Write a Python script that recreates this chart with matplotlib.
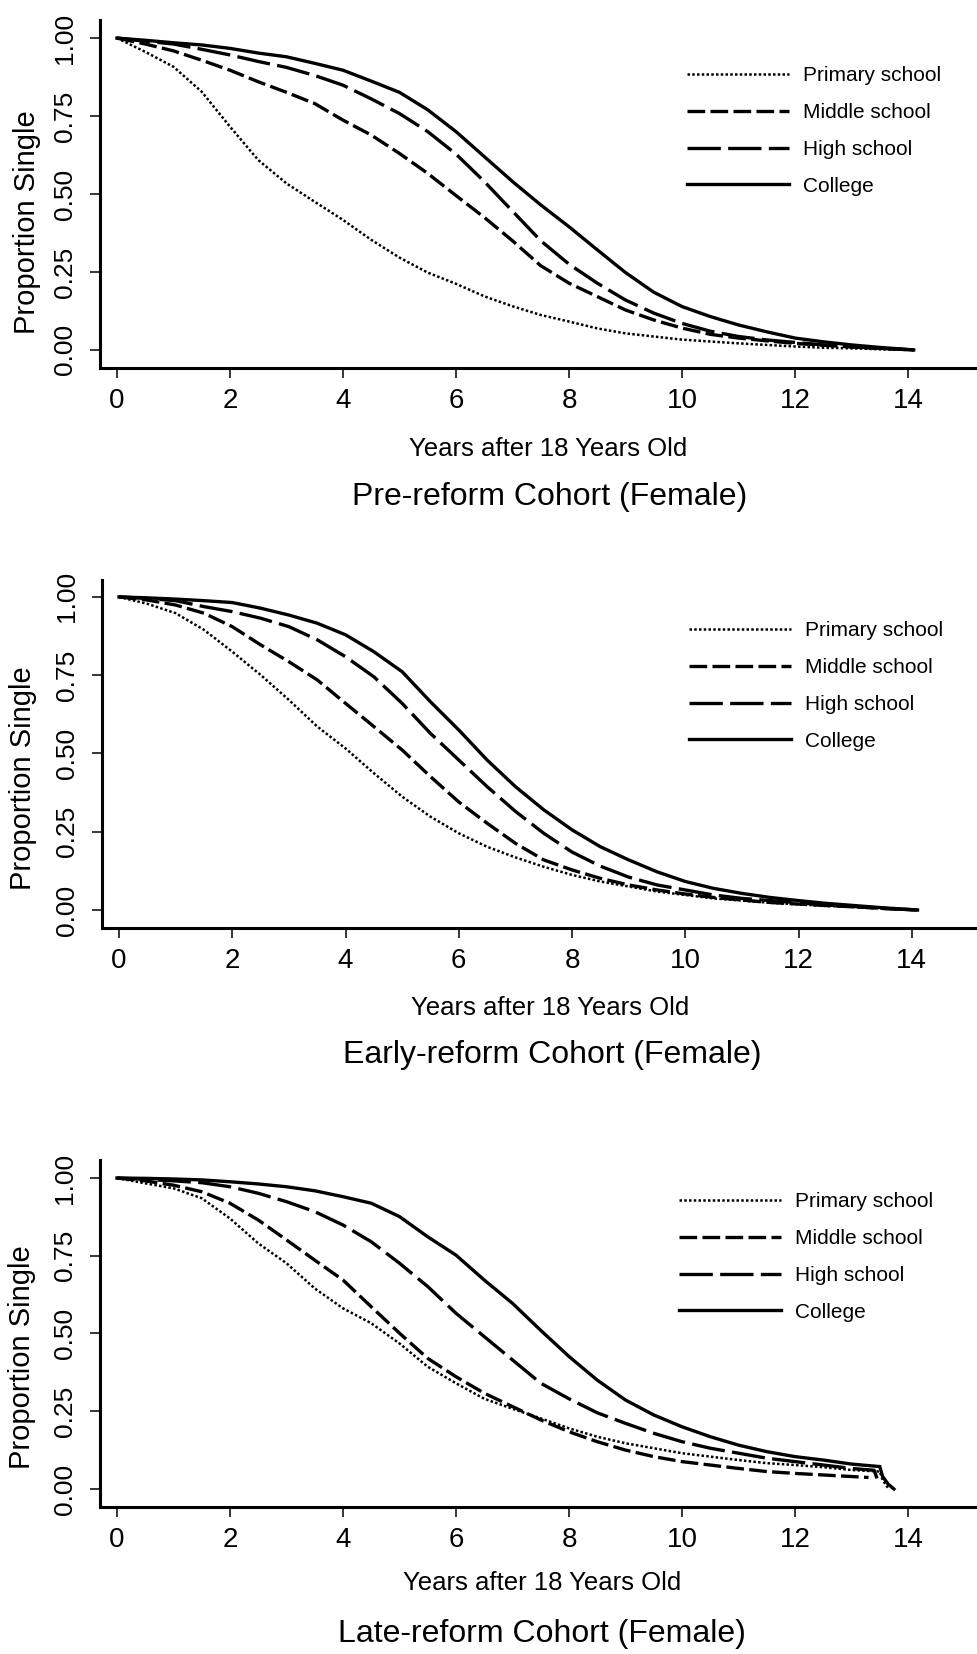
import matplotlib
matplotlib.use("Agg")
import matplotlib.pyplot as plt
from matplotlib import font_manager as fm

# ---------------- data ----------------
education = ["Primary school", "Middle school", "High school", "College"]
titles = ["Pre-reform Cohort (Female)", "Early-reform Cohort (Female)", "Late-reform Cohort (Female)"]
x_label = "Years after 18 Years Old"
y_label = "Proportion Single"
x_ticks = [0, 2, 4, 6, 8, 10, 12, 14]
y_ticks = [0.00, 0.25, 0.50, 0.75, 1.00]
y_ticklabels = ["0.00", "0.25", "0.50", "0.75", "1.00"]

# Pre-reform cohort
pre_years = [0, .5, 1, 1.5, 2, 2.5, 3, 3.5, 4, 4.5, 5, 5.5, 6, 6.5, 7, 7.5, 8, 8.5,
             9, 9.5, 10, 10.5, 11, 11.5, 12, 12.5, 13, 13.5, 14.1]
pre_primary = [1.0, .956, .908, .828, .716, .609, .534, .475, .417, .353, .296, .248, .212, .172,
               .140, .112, .091, .069, .053, .043, .033, .027, .021, .016, .011, .007, .005, .002, 0.0]
pre_middle = [1.0, .981, .959, .929, .897, .860, .826, .790, .737, .689, .630, .566, .495, .425,
              .350, .270, .214, .171, .128, .096, .070, .050, .038, .029, .021, .015, .010, .005, 0.0]
pre_high = [1.0, .990, .981, .964, .946, .925, .906, .880, .849, .805, .758, .700, .628, .540,
            .445, .350, .275, .214, .160, .118, .085, .060, .043, .032, .024, .016, .010, .005, 0.0]
pre_college = [1.0, .993, .985, .978, .967, .952, .940, .919, .897, .862, .826, .770, .700, .620,
               .540, .465, .395, .321, .248, .185, .139, .107, .080, .058, .038, .026, .016, .008, 0.0]

# Early-reform cohort
early_years = [0, .5, 1, 1.5, 2, 2.5, 3, 3.5, 4, 4.5, 5, 5.5, 6, 6.5, 7, 7.5, 8, 8.5,
               9, 9.5, 10, 10.5, 11, 11.5, 12, 12.5, 13, 13.5, 14.1]
early_primary = [1.0, .978, .948, .895, .825, .751, .671, .586, .516, .437, .362, .298, .245, .202,
                 .168, .138, .112, .091, .075, .059, .048, .037, .030, .023, .018, .013, .009, .004, 0.0]
early_middle = [1.0, .990, .974, .948, .905, .847, .793, .735, .660, .586, .511, .426, .345, .277,
                .213, .160, .128, .101, .080, .064, .051, .040, .032, .024, .019, .014, .010, .005, 0.0]
early_high = [1.0, .995, .988, .969, .953, .932, .905, .863, .809, .745, .660, .564, .479, .394,
              .315, .245, .185, .140, .105, .080, .064, .048, .037, .030, .023, .016, .011, .005, 0.0]
early_college = [1.0, .997, .993, .988, .982, .964, .942, .916, .879, .825, .761, .665, .575, .479,
                 .394, .320, .256, .202, .160, .122, .091, .069, .053, .040, .030, .021, .014, .007, 0.0]

# Late-reform cohort (series end at different times)
late_primary_t = [0, .5, 1, 1.5, 2, 2.5, 3, 3.5, 4, 4.5, 5, 5.5, 6, 6.5, 7, 7.5, 8, 8.5,
                  9, 9.5, 10, 10.5, 11, 11.5, 12, 12.5, 13, 13.5, 13.55, 13.65]
late_primary = [1.0, .983, .967, .935, .870, .790, .726, .645, .581, .533, .468, .393, .340, .290,
                .258, .227, .195, .168, .147, .131, .115, .104, .093, .083, .077, .070, .061, .056, .029, .002]
late_middle_t = [0, .5, 1, 1.5, 2, 2.5, 3, 3.5, 4, 4.5, 5, 5.5, 6, 6.5, 7, 7.5, 8, 8.5,
                 9, 9.5, 10, 10.5, 11, 11.5, 12, 12.5, 13, 13.3]
late_middle = [1.0, .991, .977, .956, .919, .865, .801, .736, .672, .586, .501, .420, .361, .308,
               .265, .222, .184, .152, .125, .104, .088, .077, .066, .056, .050, .045, .040, .037]
late_high_t = [0, .5, 1, 1.5, 2, 2.5, 3, 3.5, 4, 4.5, 5, 5.5, 6, 6.5, 7, 7.5, 8, 8.5,
               9, 9.5, 10, 10.5, 11, 11.5, 12, 12.5, 13, 13.4, 13.45]
late_high = [1.0, .996, .991, .985, .972, .951, .924, .892, .849, .795, .726, .651, .565, .490,
             .415, .340, .290, .245, .211, .179, .152, .131, .115, .099, .088, .077, .066, .060, .034]
late_college_t = [0, .5, 1, 1.5, 2, 2.5, 3, 3.5, 4, 4.5, 5, 5.5, 6, 6.5, 7, 7.5, 8, 8.5,
                  9, 9.5, 10, 10.5, 11, 11.5, 12, 12.5, 13, 13.5, 13.55, 13.65, 13.75]
late_college = [1.0, .999, .997, .994, .988, .981, .972, .959, .940, .919, .876, .811, .752, .672,
                .597, .510, .426, .350, .286, .238, .200, .168, .141, .120, .104, .093, .080, .072,
                .040, .015, 0.0]

panels = [
    [(pre_years, pre_primary), (pre_years, pre_middle), (pre_years, pre_high), (pre_years, pre_college)],
    [(early_years, early_primary), (early_years, early_middle), (early_years, early_high), (early_years, early_college)],
    [(late_primary_t, late_primary), (late_middle_t, late_middle), (late_high_t, late_high), (late_college_t, late_college)],
]

# ---------------- layout (pixels of the 977x1654 canvas) ----------------
W, H, DPI = 977, 1654, 100
layout = [
    dict(ax=(100, 20, 977, 368), xlim=(-0.30, 15.22), ylim=(-0.058, 1.058),
         leg=(687, 66), xl=(548, 449), ti=(550, 497), yl=(27, 222)),
    dict(ax=(102, 580, 977, 928), xlim=(-0.30, 15.15), ylim=(-0.0575, 1.054),
         leg=(689, 621), xl=(550, 1008), ti=(552, 1055), yl=(23, 778)),
    dict(ax=(100, 1160, 977, 1507), xlim=(-0.30, 15.22), ylim=(-0.058, 1.058),
         leg=(679, 1192), xl=(542, 1583), ti=(542, 1634), yl=(22, 1357)),
]

styles = [
    dict(color="black", lw=1.8, dashes=(1.0, 0.9)),
    dict(color="black", lw=2.4, dashes=(5.3, 1.6)),
    dict(color="black", lw=2.4, dashes=(10.0, 2.2)),
    dict(color="black", lw=2.4, linestyle="-"),
]

names = {f.name for f in fm.fontManager.ttflist}
base_font = "Liberation Sans" if "Liberation Sans" in names else "DejaVu Sans"
narrow_font = "Liberation Sans Narrow" if "Liberation Sans Narrow" in names else base_font
plt.rcParams["font.family"] = [base_font, "DejaVu Sans"]

fig = plt.figure(figsize=(W / DPI, H / DPI), dpi=DPI)
fig.patch.set_facecolor("white")

def fx(px):
    return px / W

def fy(py):
    return 1 - py / H

for series, lay, title in zip(panels, layout, titles):
    l, t, r, b = lay["ax"]
    ax = fig.add_axes([fx(l), fy(b), (r - l) / W, (b - t) / H])
    for (xs, ys), name, st in zip(series, education, styles):
        st = dict(st)
        st.pop("linestyle", None)
        dashes = st.pop("dashes", None)
        line, = ax.plot(xs, ys, label=name, solid_joinstyle="miter", **st)
        if dashes is not None:
            line.set_dashes(dashes)
            line.set_dash_capstyle("butt")
    ax.set_xlim(*lay["xlim"])
    ax.set_ylim(*lay["ylim"])
    for s in ("top", "right"):
        ax.spines[s].set_visible(False)
    for s in ("left", "bottom"):
        ax.spines[s].set_linewidth(2.2)
    ax.set_xticks(x_ticks)
    ax.set_yticks(y_ticks)
    ax.set_yticklabels(y_ticklabels)
    ax.tick_params(axis="both", direction="out", length=7.5, width=1.1, colors="black")
    ax.tick_params(axis="x", labelsize=20, pad=7)
    ax.tick_params(axis="y", labelsize=19, pad=9, labelrotation=90)
    for lab in ax.get_yticklabels():
        lab.set_fontfamily(narrow_font)
        lab.set_va("center")
    lx, ly = lay["leg"]
    ax.legend(loc="upper left", bbox_to_anchor=(fx(lx), fy(ly)), bbox_transform=fig.transFigure,
              frameon=False, fontsize=15, handlelength=4.9, handletextpad=0.65,
              labelspacing=0.86, borderpad=0, borderaxespad=0)
    fig.text(fx(lay["xl"][0]), fy(lay["xl"][1]), x_label, fontsize=18.5, ha="center", va="center")
    fig.text(fx(lay["ti"][0]), fy(lay["ti"][1]), title, fontsize=23, ha="center", va="center")
    fig.text(fx(lay["yl"][0]), fy(lay["yl"][1]), y_label, fontsize=21, ha="center", va="center",
             rotation=90)

fig.savefig("out.png", dpi=DPI, facecolor="white")
